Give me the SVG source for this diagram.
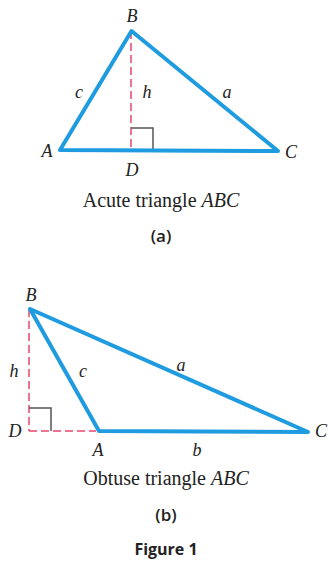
<svg xmlns="http://www.w3.org/2000/svg" width="329" height="567" viewBox="0 0 329 567">
<style>
.tri{fill:none;stroke:#1f9be0;stroke-width:4;stroke-linejoin:round;stroke-linecap:round}
.alt{fill:none;stroke:#e8456e;stroke-width:1.5;stroke-dasharray:8,4}
.sq{fill:none;stroke:#555;stroke-width:1.5}
.lbl{font-family:"Liberation Serif",serif;font-style:italic;font-size:18px;fill:#222;text-anchor:middle}
.cap{font-family:"Liberation Serif",serif;font-size:20px;fill:#222;text-anchor:middle}
.sub{font-family:"Open Sans","Liberation Sans",sans-serif;font-weight:600;font-size:17px;fill:#222;text-anchor:middle}
.fig{font-family:"Open Sans","Liberation Sans",sans-serif;font-weight:bold;font-size:16px;fill:#222;text-anchor:middle}
</style>
<rect width="329" height="567" fill="#fff"/>
<g id="figure-a">
<g id="connectors-a">
<line class="alt" x1="131" y1="31" x2="131" y2="150"/>
<polyline class="sq" points="131,128 153,128 153,150"/>
<polygon class="tri" points="131.5,31 60,150 278,151"/>
</g>
<g id="labels-a">
<text class="lbl" x="132" y="22">B</text>
<text class="lbl" x="47" y="157">A</text>
<text class="lbl" x="291" y="158">C</text>
<text class="lbl" x="132" y="176">D</text>
<text class="lbl" x="79" y="98">c</text>
<text class="lbl" x="147" y="98">h</text>
<text class="lbl" x="227" y="98">a</text>
</g>
<text class="cap" x="161" y="207">Acute triangle <tspan font-style="italic">ABC</tspan></text>
<text class="sub" x="161" y="242">(a)</text>
</g>
<g id="figure-b">
<g id="connectors-b">
<line class="alt" x1="29" y1="309" x2="29" y2="431"/>
<line class="alt" x1="29" y1="431" x2="96" y2="431"/>
<polyline class="sq" points="29,408 51,408 51,431"/>
<polygon class="tri" points="30,309 99,431 308,432"/>
</g>
<g id="labels-b">
<text class="lbl" x="31" y="301">B</text>
<text class="lbl" x="14" y="377">h</text>
<text class="lbl" x="83" y="377">c</text>
<text class="lbl" x="181" y="371">a</text>
<text class="lbl" x="15" y="437">D</text>
<text class="lbl" x="98" y="456">A</text>
<text class="lbl" x="197" y="456">b</text>
<text class="lbl" x="321" y="437">C</text>
</g>
<text class="cap" x="166" y="485">Obtuse triangle <tspan font-style="italic">ABC</tspan></text>
<text class="sub" x="166" y="521">(b)</text>
</g>
<text id="figure-title" class="fig" x="166" y="555">Figure 1</text>
</svg>
